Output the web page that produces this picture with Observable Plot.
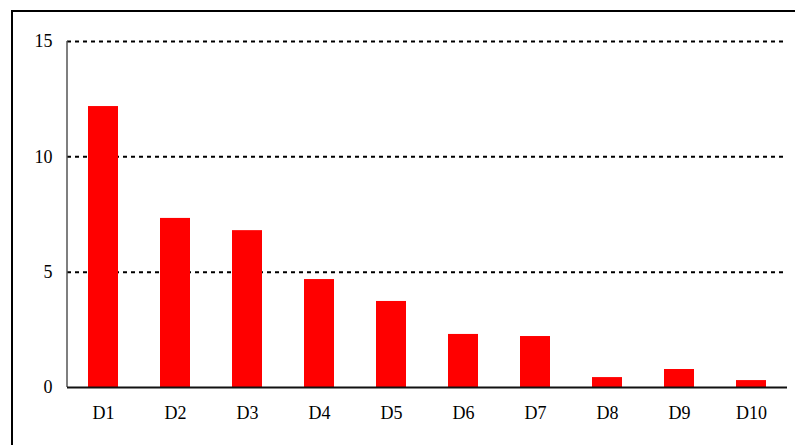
<!DOCTYPE html>
<html>
<head>
<meta charset="utf-8">
<script src="https://cdn.jsdelivr.net/npm/d3@7"></script>
<script src="https://cdn.jsdelivr.net/npm/@observablehq/plot@0.6"></script>
<style>
  html, body { margin: 0; padding: 0; background: #fff; overflow: hidden; }
  #wrap { position: relative; width: 795px; height: 445px; overflow: hidden; }
  #frame { position: absolute; left: 11px; top: 10px; width: 900px; height: 600px;
           border-left: 2px solid #000; border-top: 2px solid #000; box-sizing: border-box; }
  #chart { position: absolute; left: 0; top: 0; }
  #chart svg, #chart svg text, #chart svg g { font-family: "Liberation Serif", "Times New Roman", Times, serif !important; font-size: 18px !important; }
</style>
</head>
<body>
<div id="wrap"><div id="frame"></div><div id="chart"></div></div>
<script>
const categories = ["D1","D2","D3","D4","D5","D6","D7","D8","D9","D10"];
const values = [12.18, 7.33, 6.8, 4.68, 3.73, 2.3, 2.21, 0.43, 0.78, 0.3];
const yTicks = [0, 5, 10, 15];
const gridTicks = [5, 10, 15];

const data = categories.map((c, i) => ({cat: c, value: values[i]}));

const yAxisLine = (index, scales, values, dims) => {
  const g = d3.create("svg:line")
    .attr("x1", dims.marginLeft).attr("x2", dims.marginLeft)
    .attr("y1", scales.y(15)).attr("y2", scales.y(0))
    .attr("stroke", "#555").attr("stroke-width", 1.5);
  return g.node();
};

const chart = Plot.plot({
  width: 795,
  height: 445,
  marginLeft: 67,
  marginRight: 8,
  marginTop: 41,
  marginBottom: 58,
  style: {fontFamily: "'Liberation Serif', 'Times New Roman', serif", fontSize: "18px", color: "#000", background: "transparent"},
  x: {domain: categories, paddingInner: 0.59, paddingOuter: 0.295, label: null},
  y: {domain: [0, 15], label: null},
  marks: [
    Plot.ruleY(gridTicks, {stroke: "#000", strokeWidth: 2, strokeDasharray: "4,4"}),
    Plot.barY(data, {x: "cat", y: "value", fill: "#ff0000"}),
    yAxisLine,
    Plot.ruleY([0], {stroke: "#111", strokeWidth: 2}),
    Plot.axisY({ticks: yTicks, tickSize: 0, tickPadding: 15, label: null, fontSize: 18}),
    Plot.axisX({tickSize: 0, tickPadding: 19, label: null, fontSize: 18})
  ]
});
document.getElementById("chart").appendChild(chart);
</script>
</body>
</html>
